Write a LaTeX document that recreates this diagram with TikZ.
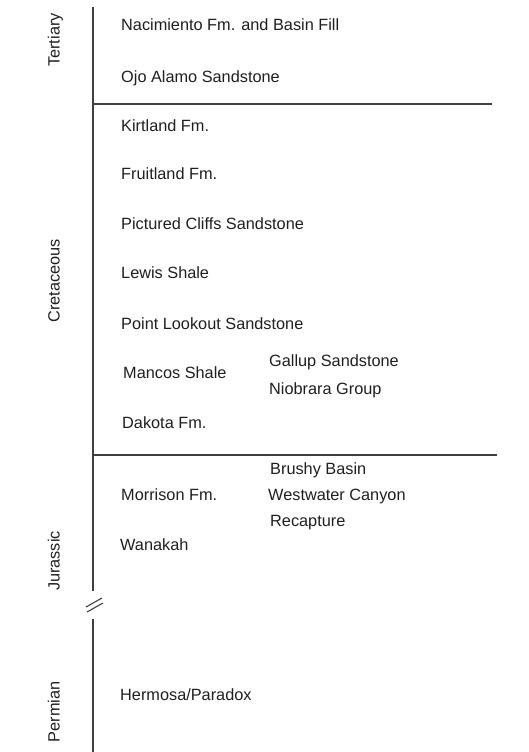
\documentclass[tikz,border=0pt]{standalone}
\usepackage{fontspec}
\setmainfont{Liberation Sans}
\usepackage{tikz}
\usetikzlibrary{positioning}
\usepackage{xcolor}
\newcommand{\strat}{\fontsize{16.3}{19}\selectfont}

\begin{document}
\begin{tikzpicture}[x=1pt, y=-1pt,
    unit/.style={anchor=base west, inner sep=0pt, font=\strat, text=black!88},
    period/.style={rotate=90, anchor=base, inner sep=0pt, font=\strat, text=black!88},
    rule/.style={line width=1.3pt, black!75}]
  % Page: 1pt = 1 pixel of the 529x752 reference
  \useasboundingbox (0,0) rectangle (529,752);

  % Column axis with a break between Jurassic and Permian
  \coordinate (axtop) at (93,7);
  \coordinate (brkup) at (93,591);
  \coordinate (brklo) at (93,619);
  \coordinate (axbot) at (93,752);
  \draw[rule] (axtop) -- (brkup);
  \draw[rule] (brklo) -- (axbot);
  \draw[line width=1.1pt, black!75] (86,607) -- (102,598);
  \draw[line width=1.1pt, black!75] (87,612) -- (103,603);

  % Period boundaries
  \coordinate (tk) at (93,104);
  \coordinate (tkend) at (492,104);
  \coordinate (kj) at (93,455);
  \coordinate (kjend) at (497,455);
  \draw[rule] (tk) -- (tkend);
  \draw[rule] (kj) -- (kjend);

  % Periods
  \node[period] (tertiary) at (59.5,40) {Tertiary};
  \node[period] (cretaceous) at (59.5,281) {Cretaceous};
  \node[period] (jurassic) at (59.5,561) {Jurassic};
  \node[period] (permian) at (59.5,712) {Permian};

  % Tertiary
  \node[unit] (nacimiento) at (121,31) {Nacimiento Fm. and Basin Fill};
  \node[unit] (ojoalamo) at (121,82) {Ojo Alamo Sandstone};

  % Cretaceous
  \node[unit] (kirtland) at (121,131) {Kirtland Fm.};
  \node[unit] (fruitland) at (121,179) {Fruitland Fm.};
  \node[unit] (pictured) at (121,229) {Pictured Cliffs Sandstone};
  \node[unit] (lewis) at (121,278) {Lewis Shale};
  \node[unit] (pointlookout) at (121,329) {Point Lookout Sandstone};
  \node[unit] (mancos) at (123,378) {Mancos Shale};
  \node[unit] (gallup) at (269,366) {Gallup Sandstone};
  \node[unit] (niobrara) at (269,394) {Niobrara Group};
  \node[unit] (dakota) at (122,428) {Dakota Fm.};

  % Jurassic
  \node[unit] (brushy) at (270,474) {Brushy Basin};
  \node[unit] (morrison) at (121,500) {Morrison Fm.};
  \node[unit] (westwater) at (268,500) {Westwater Canyon};
  \node[unit] (recapture) at (270,526) {Recapture};
  \node[unit] (wanakah) at (120,550) {Wanakah};

  % Permian
  \node[unit] (hermosa) at (120,700) {Hermosa/Paradox};
\end{tikzpicture}
\end{document}
